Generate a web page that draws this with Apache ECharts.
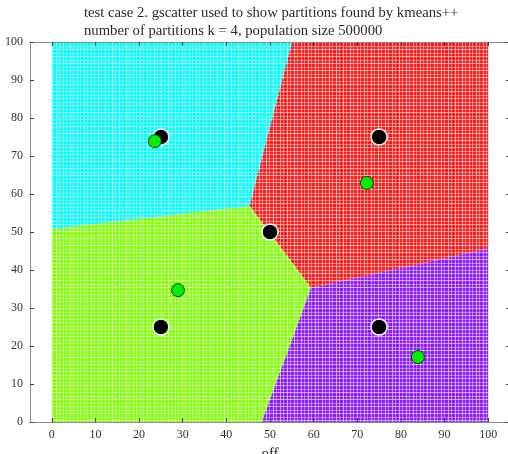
<!DOCTYPE html>
<html>
<head>
<meta charset="utf-8">
<style>
  html, body { margin: 0; padding: 0; background: #ffffff; }
  #chart { width: 508px; height: 454px; }
</style>
<script src="https://cdn.jsdelivr.net/npm/echarts@6/dist/echarts.min.js"></script>
</head>
<body>
<div id="chart"></div>
<script>
// Cluster centres found by kmeans++ (x, y)
const centroidX = [23.6, 72.2, 28.9, 83.9];
const centroidY = [73.9, 62.9, 34.7, 17.1];
// Partition colours, one per centre
const partitionColors = ['#00ffff', '#ff1a1a', '#80ff00', '#8c1aff'];
// Seed points used to start the clustering
const seedX = [25, 75, 50, 25, 75];
const seedY = [75, 75, 50, 25, 25];
// Axis tick values
const xTicks = [0, 10, 20, 30, 40, 50, 60, 70, 80, 90, 100];
// Population domain
const domainMin = 0, domainMax = 100;

// Each partition is the set of population points nearest to its centre:
// clip the domain square by the bisector half-planes against every other centre.
function clipHalfPlane(poly, a, b, c) {
  // keep points with a*x + b*y <= c
  const out = [];
  for (let i = 0; i < poly.length; i++) {
    const p = poly[i], q = poly[(i + 1) % poly.length];
    const fp = a * p[0] + b * p[1] - c;
    const fq = a * q[0] + b * q[1] - c;
    if (fp <= 0) out.push(p);
    if ((fp < 0 && fq > 0) || (fp > 0 && fq < 0)) {
      const t = fp / (fp - fq);
      out.push([p[0] + t * (q[0] - p[0]), p[1] + t * (q[1] - p[1])]);
    }
  }
  return out;
}
function partitionPolygon(i) {
  let poly = [[domainMin, domainMin], [domainMax, domainMin], [domainMax, domainMax], [domainMin, domainMax]];
  for (let j = 0; j < centroidX.length; j++) {
    if (j === i) continue;
    const a = centroidX[j] - centroidX[i];
    const b = centroidY[j] - centroidY[i];
    const c = (centroidX[j] * centroidX[j] + centroidY[j] * centroidY[j]
             - centroidX[i] * centroidX[i] - centroidY[i] * centroidY[i]) / 2;
    poly = clipHalfPlane(poly, a, b, c);
  }
  return poly;
}
const partitions = centroidX.map((_, i) => partitionPolygon(i));

// Dotted-grid texture imitating the dense scatter of the population
function dotPattern(color) {
  const size = 7;
  const cv = document.createElement('canvas');
  cv.width = size; cv.height = size;
  const ctx = cv.getContext('2d');
  ctx.fillStyle = color;
  ctx.fillRect(0, 0, size, size);
  ctx.fillStyle = 'rgba(255,255,255,0.6)';
  ctx.fillRect(0, 0, 1, size);
  ctx.fillRect(0, 0, size, 1);
  ctx.fillStyle = 'rgba(255,255,255,0.4)';
  ctx.fillRect(3, 0, 1, size);
  ctx.fillRect(0, 4, size, 1);
  return { image: cv, repeat: 'repeat' };
}

const serifFont = 'Liberation Serif';
const chart = echarts.init(document.getElementById('chart'), null, { renderer: 'canvas' });

const axisCommon = {
  type: 'value',
  splitLine: { show: false },
  axisLine: { show: true, onZero: false, lineStyle: { color: '#8a8a8a', width: 1 } },
  axisTick: { show: true, inside: true, length: 4, lineStyle: { color: '#404040' } },
  z: 10
};

chart.setOption({
  animation: false,
  backgroundColor: '#ffffff',
  graphic: [
    { type: 'text', left: 84, top: 6, style: { text: 'test case 2. gscatter used to show partitions found by kmeans++', font: '14.7px "' + serifFont + '"', fill: '#2a2a2a' } },
    { type: 'text', left: 84, top: 24, style: { text: 'number of partitions k = 4, population size 500000', font: '14.7px "' + serifFont + '"', fill: '#2a2a2a' } }
  ],
  grid: { left: 30, top: 42, width: 480, height: 380, containLabel: false, outerBoundsMode: 'none' },
  xAxis: [
    Object.assign({}, axisCommon, {
      position: 'bottom', min: -5, max: 105,
      name: 'off', nameLocation: 'middle', nameGap: 25,
      nameTextStyle: { fontFamily: serifFont, fontSize: 15, color: '#222' },
      axisTick: Object.assign({}, axisCommon.axisTick, { customValues: xTicks }),
      axisLabel: { customValues: xTicks, fontFamily: serifFont, fontSize: 12, color: '#333', margin: 7 }
    }),
    Object.assign({}, axisCommon, {
      position: 'top', min: -5, max: 105,
      axisTick: Object.assign({}, axisCommon.axisTick, { customValues: xTicks }),
      axisLabel: { show: false }
    })
  ],
  yAxis: [
    Object.assign({}, axisCommon, {
      position: 'left', min: 0, max: 100, interval: 10,
      axisLabel: { fontFamily: serifFont, fontSize: 12, color: '#333', margin: 7 }
    }),
    Object.assign({}, axisCommon, {
      position: 'right', min: 0, max: 100, interval: 10,
      axisLabel: { show: false }
    })
  ],
  series: [
    {
      type: 'custom',
      xAxisIndex: 0, yAxisIndex: 0,
      clip: true,
      z: 1,
      data: partitions.map((_, i) => [i]),
      renderItem: function (params, api) {
        const idx = api.value(0);
        const pts = partitions[idx].map(p => api.coord(p));
        return {
          type: 'polygon',
          shape: { points: pts },
          style: { fill: dotPattern(partitionColors[idx]), stroke: null }
        };
      }
    },
    {
      type: 'scatter',
      z: 3,
      symbolSize: 16,
      itemStyle: { color: '#000000', borderColor: '#ffffff', borderWidth: 1.5, opacity: 1 },
      data: seedX.map((x, i) => [x, seedY[i]])
    },
    {
      type: 'scatter',
      z: 4,
      symbolSize: 13,
      itemStyle: { color: '#00f000', borderColor: '#143214', borderWidth: 1, opacity: 1 },
      data: centroidX.map((x, i) => [x, centroidY[i]])
    }
  ]
});
</script>
</body>
</html>
